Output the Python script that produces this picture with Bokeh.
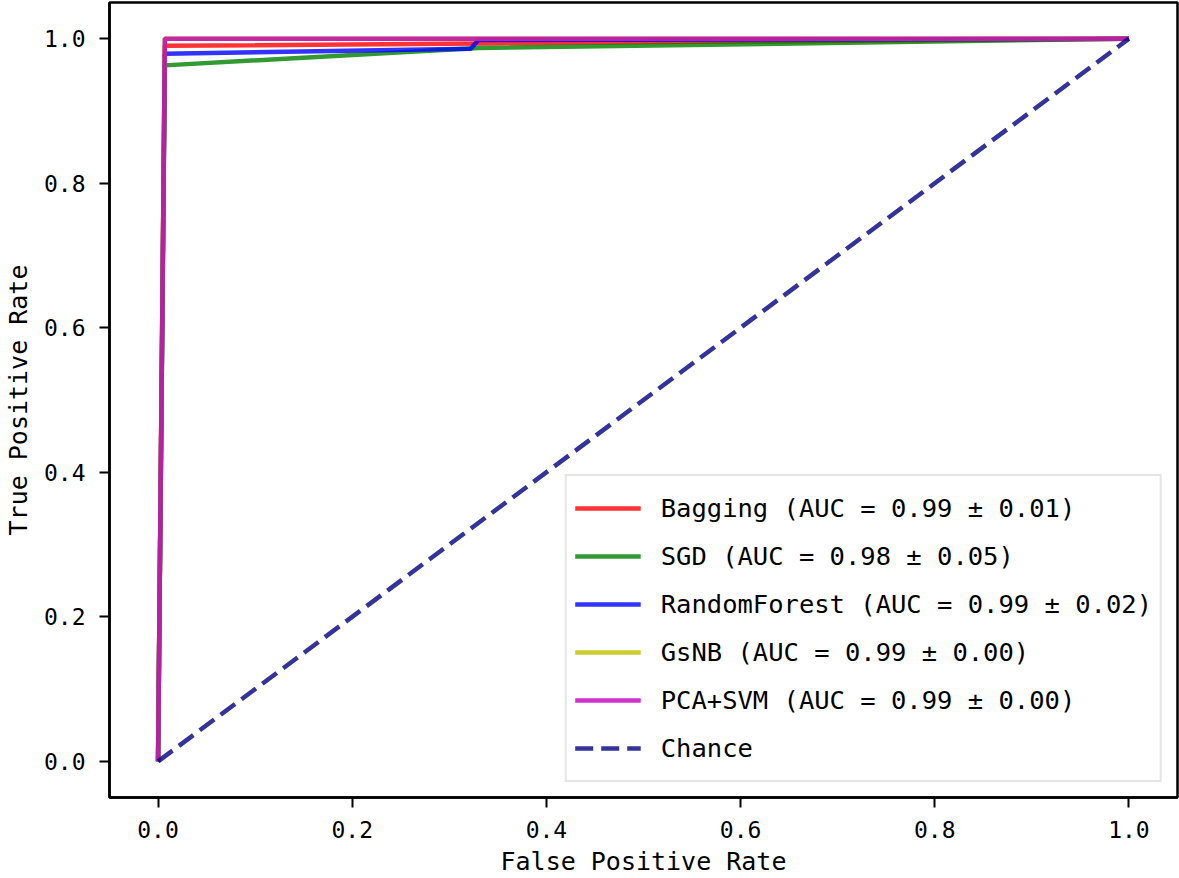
from bokeh.plotting import figure
from bokeh.models import Range1d, FixedTicker, Legend, LegendItem
from bokeh.embed import file_html
from bokeh.resources import INLINE

# ---- data ----
model_names = ["Bagging", "SGD", "RandomForest", "GsNB", "PCA+SVM"]
auc_means = [0.99, 0.98, 0.99, 0.99, 0.99]
auc_stds = [0.01, 0.05, 0.02, 0.00, 0.00]

fpr_bagging = [0.0, 0.007, 1.0]
tpr_bagging = [0.0, 0.990, 1.0]

fpr_sgd = [0.0, 0.007, 0.33, 1.0]
tpr_sgd = [0.0, 0.963, 0.987, 1.0]

fpr_rf = [0.0, 0.007, 0.322, 0.330, 1.0]
tpr_rf = [0.0, 0.979, 0.986, 0.998, 1.0]

fpr_gsnb = [0.0, 0.007, 1.0]
tpr_gsnb = [0.0, 1.000, 1.0]

fpr_svm = [0.0, 0.007, 1.0]
tpr_svm = [0.0, 1.000, 1.0]

fpr_chance = [0.0, 1.0]
tpr_chance = [0.0, 1.0]

tick_values = [0.0, 0.2, 0.4, 0.6, 0.8, 1.0]
tick_labels = ["0.0", "0.2", "0.4", "0.6", "0.8", "1.0"]

colors = ["#ff0000", "#008000", "#0000ff", "#bfbf00", "#bf00bf"]
chance_color = "#000080"

FONT = "DejaVu Sans Mono"

p = figure(width=1179, height=878, output_backend="svg", toolbar_location=None,
           x_range=Range1d(-0.05, 1.05), y_range=Range1d(-0.05, 1.05),
           min_border_left=108, min_border_right=2, min_border_top=2,
           min_border_bottom=79)

p.grid.visible = False
p.outline_line_color = "black"
p.outline_line_width = 2.5
p.background_fill_color = "white"
p.border_fill_color = "white"

for ax in (p.xaxis[0], p.yaxis[0]):
    ax.ticker = FixedTicker(ticks=tick_values)
    ax.major_label_overrides = {v: s for v, s in zip(tick_values, tick_labels)}
    ax.minor_tick_line_color = None
    ax.major_tick_in = 0
    ax.major_tick_out = 10
    ax.major_tick_line_width = 2
    ax.major_tick_line_color = "black"
    ax.axis_line_color = "black"
    ax.axis_line_width = 2.5
    ax.major_label_text_font = FONT
    ax.major_label_text_font_size = "23px"
    ax.major_label_text_color = "black"
    ax.axis_label_text_font = FONT
    ax.axis_label_text_font_size = "25px"
    ax.axis_label_text_font_style = "normal"
    ax.axis_label_text_color = "black"

p.xaxis[0].axis_label = "False Positive Rate"
p.yaxis[0].axis_label = "True Positive Rate"
p.xaxis[0].major_label_standoff = 13
p.xaxis[0].axis_label_standoff = 6
p.yaxis[0].major_label_standoff = 14
p.yaxis[0].axis_label_standoff = 8

series = [(fpr_bagging, tpr_bagging), (fpr_sgd, tpr_sgd), (fpr_rf, tpr_rf),
          (fpr_gsnb, tpr_gsnb), (fpr_svm, tpr_svm)]

items = []
for (fx, ty), name, m, s, c in zip(series, model_names, auc_means, auc_stds, colors):
    r = p.line(fx, ty, line_color=c, line_width=4.5, line_alpha=0.8)
    items.append(LegendItem(label=f"{name} (AUC = {m:.2f} ± {s:.2f})", renderers=[r]))

rc = p.line(fpr_chance, tpr_chance, line_color=chance_color, line_width=4.5,
            line_alpha=0.8, line_dash="18 8")
items.append(LegendItem(label="Chance", renderers=[rc]))

legend = Legend(items=items, location="bottom_right")
legend.margin = 15
legend.padding = 8
legend.spacing = 0
legend.glyph_width = 66
legend.glyph_height = 48
legend.label_height = 48
legend.label_standoff = 20
legend.label_text_font = FONT
legend.label_text_font_size = "25.5px"
legend.label_text_color = "black"
legend.border_line_color = "#cccccc"
legend.border_line_width = 2
legend.background_fill_color = "white"
legend.background_fill_alpha = 0.8
p.add_layout(legend, "center")

open("out.html", "w").write(file_html(p, INLINE))
